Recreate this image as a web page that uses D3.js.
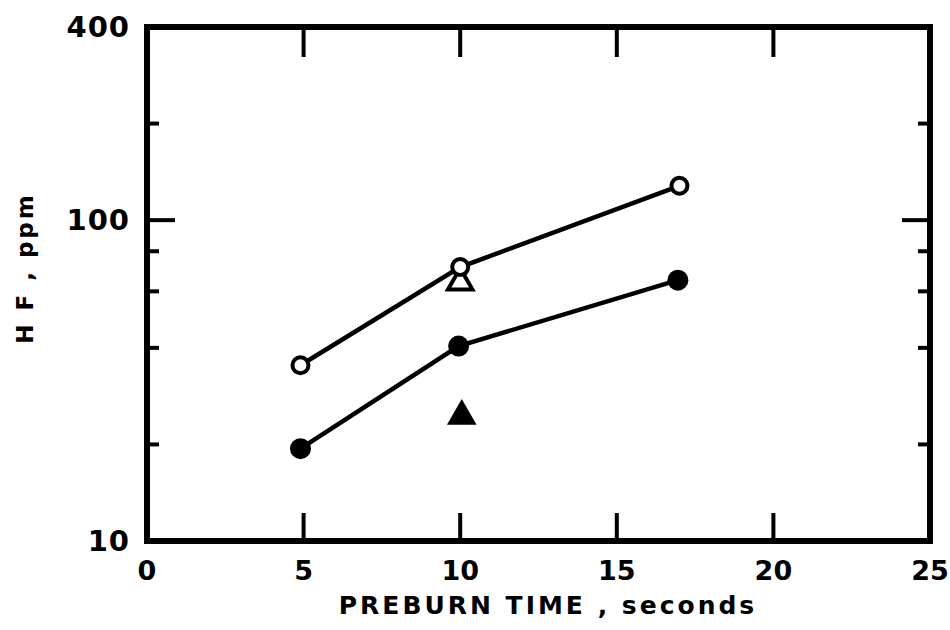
<!DOCTYPE html>
<html>
<head>
<meta charset="utf-8">
<script src="https://cdn.jsdelivr.net/npm/d3@7"></script>
<style>
  body { margin: 0; background: #fff; }
  text { font-family: "DejaVu Sans", sans-serif; font-weight: bold; fill: #000; }
</style>
</head>
<body>
<div id="chart"></div>
<script>
// data
const openCircles = [{x: 4.9, y: 35.3}, {x: 10.0, y: 71.4}, {x: 17.0, y: 128}];
const filledCircles = [{x: 4.9, y: 19.4}, {x: 9.95, y: 40.5}, {x: 16.95, y: 65}];
const openTriangles = [{x: 10.0, y: 64}];
const filledTriangles = [{x: 10.05, y: 24.5}];
const xTicks = [0, 5, 10, 15, 20, 25];
const yLabels = [10, 100, 400];
const yMajor = [100];
const yMinor = [20, 40, 60, 80, 200];

const W = 950, H = 630;
const margin = {top: 27, right: 20, bottom: 89, left: 147};

const svg = d3.select('#chart').append('svg')
  .attr('width', W).attr('height', H);

const x = d3.scaleLinear().domain([0, 25]).range([margin.left, W - margin.right]);
const y = d3.scaleLog().domain([10, 400]).range([H - margin.bottom, margin.top]);

const x0 = x.range()[0], x1 = x.range()[1];
const y0 = y.range()[0], y1 = y.range()[1];

// frame
svg.append('rect')
  .attr('x', x0).attr('y', y1)
  .attr('width', x1 - x0).attr('height', y0 - y1)
  .attr('fill', 'none').attr('stroke', '#000').attr('stroke-width', 6);

const ticks = svg.append('g').attr('stroke', '#000').attr('stroke-width', 4);

// x ticks, bottom and top
const inner = xTicks.filter(d => d > 0 && d < 25);
ticks.selectAll('.xb').data(inner).enter().append('line')
  .attr('x1', d => x(d)).attr('x2', d => x(d))
  .attr('y1', y0).attr('y2', y0 - 28);
ticks.selectAll('.xt').data(inner).enter().append('line')
  .attr('x1', d => x(d)).attr('x2', d => x(d))
  .attr('y1', y1).attr('y2', y1 + 30);

// y ticks, left and right
const yt = yMajor.map(v => ({v, len: 28})).concat(yMinor.map(v => ({v, len: 12})));
ticks.selectAll('.yl').data(yt).enter().append('line')
  .attr('x1', x0).attr('x2', d => x0 + d.len)
  .attr('y1', d => y(d.v)).attr('y2', d => y(d.v));
ticks.selectAll('.yr').data(yt).enter().append('line')
  .attr('x1', x1).attr('x2', d => x1 - d.len)
  .attr('y1', d => y(d.v)).attr('y2', d => y(d.v));

// tick labels
svg.append('g').selectAll('text').data(xTicks).enter().append('text')
  .attr('x', d => x(d)).attr('y', y0 + 39)
  .attr('text-anchor', 'middle')
  .style('font-size', '27px')
  .text(d => d);

svg.append('g').selectAll('text').data(yLabels).enter().append('text')
  .attr('x', x0 - 17).attr('y', d => y(d))
  .attr('dy', '0.35em')
  .attr('text-anchor', 'end')
  .style('font-size', '29px')
  .style('letter-spacing', '1px')
  .text(d => d);

// axis titles
svg.append('text')
  .attr('x', 548).attr('y', 614)
  .attr('text-anchor', 'middle')
  .style('font-size', '25px')
  .style('letter-spacing', '3px')
  .text('PREBURN  TIME , seconds');

svg.append('text')
  .attr('transform', 'translate(33,268) rotate(-90)')
  .attr('text-anchor', 'middle')
  .style('font-size', '23px')
  .style('letter-spacing', '3px')
  .text('H F , ppm');

// lines
const line = d3.line().x(d => x(d.x)).y(d => y(d.y));
[openCircles, filledCircles].forEach(s => {
  svg.append('path').datum(s)
    .attr('d', line)
    .attr('fill', 'none').attr('stroke', '#000').attr('stroke-width', 4.5);
});

// triangles
const tri = d3.symbol().type(d3.symbolTriangle).size(260);
svg.append('g').selectAll('path').data(openTriangles).enter().append('path')
  .attr('transform', d => `translate(${x(d.x)},${y(d.y)})`)
  .attr('d', tri)
  .attr('fill', '#fff').attr('stroke', '#000').attr('stroke-width', 4);
svg.append('g').selectAll('path').data(filledTriangles).enter().append('path')
  .attr('transform', d => `translate(${x(d.x)},${y(d.y)})`)
  .attr('d', d3.symbol().type(d3.symbolTriangle).size(380))
  .attr('fill', '#000');

// markers
svg.append('g').selectAll('circle').data(openCircles).enter().append('circle')
  .attr('cx', d => x(d.x)).attr('cy', d => y(d.y)).attr('r', 8)
  .attr('fill', '#fff').attr('stroke', '#000').attr('stroke-width', 4);
svg.append('g').selectAll('circle').data(filledCircles).enter().append('circle')
  .attr('cx', d => x(d.x)).attr('cy', d => y(d.y)).attr('r', 10.5)
  .attr('fill', '#000');
</script>
</body>
</html>
